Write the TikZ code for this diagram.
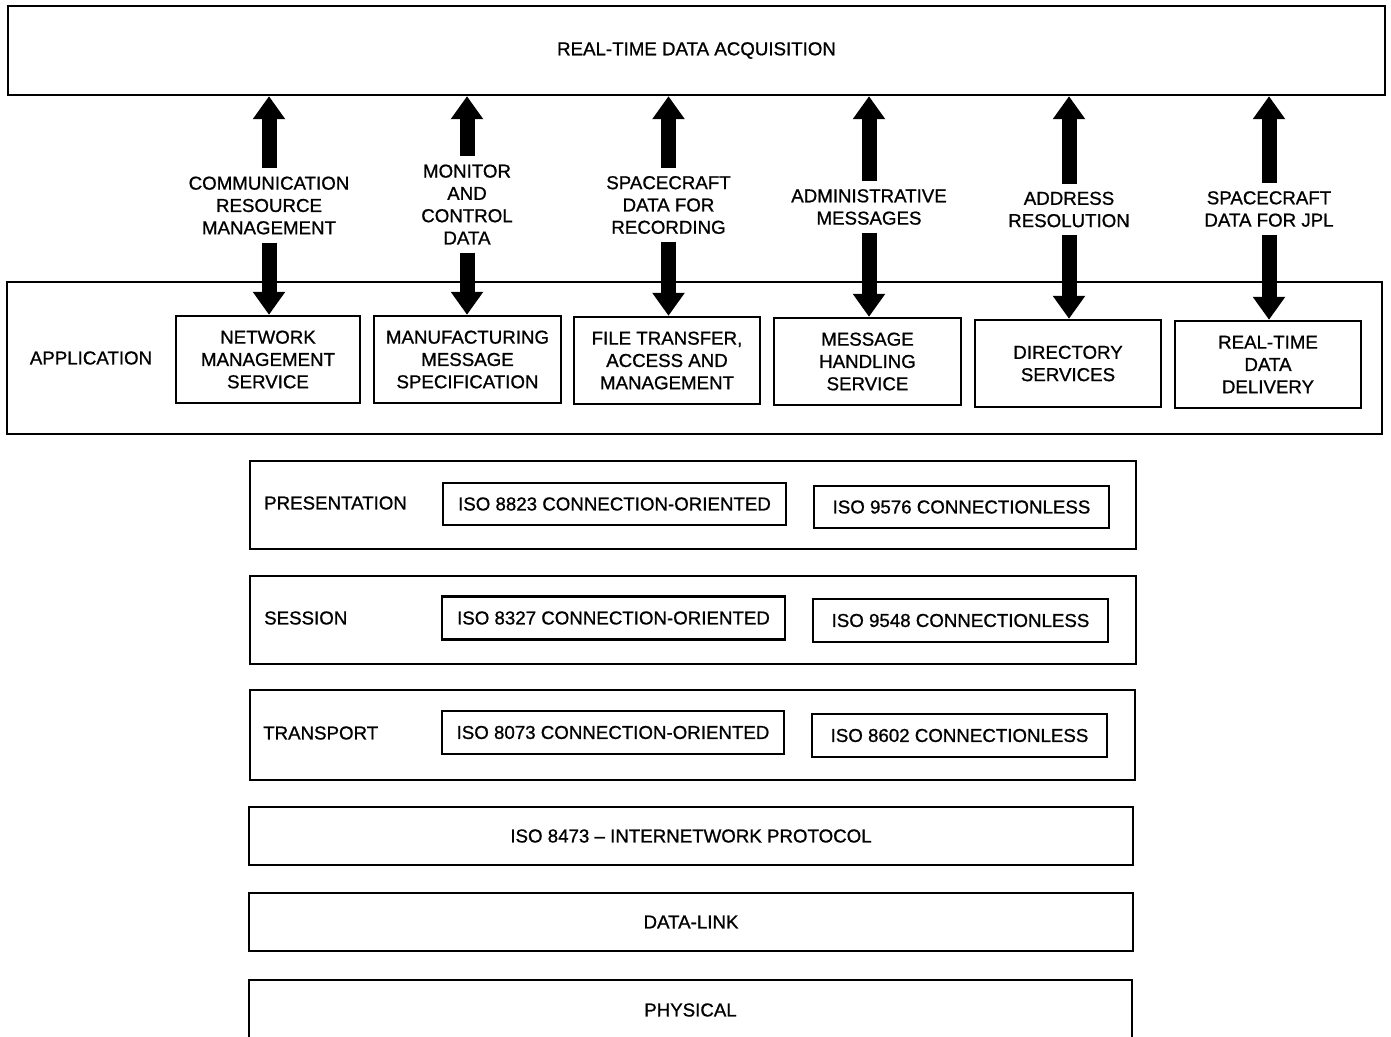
\documentclass[tikz,border=0pt]{standalone}
\usepackage{fontspec}
\setmainfont{Liberation Sans}[FakeBold=0.9]
\usetikzlibrary{arrows.meta}
\begin{document}
\begin{tikzpicture}[x=1pt,y=-1pt,
  every node/.style={font=\fontsize{18.7}{22.3}\selectfont},
  box/.style={draw, line width=2.4pt, inner sep=0pt, align=center},
  lab/.style={align=center, inner xsep=0pt, inner ysep=8pt},
  dbl/.style={line width=15pt, -{Triangle[width=31pt,length=23pt]}},
  layerlab/.style={anchor=west, inner sep=0pt}
]
\useasboundingbox (0,0) rectangle (1391,1036);

% top box
\node[box, minimum width=1377pt, minimum height=89pt] (rtda) at (696.5,50.5) {REAL-TIME DATA ACQUISITION};

% application layer
\node[box, minimum width=1375pt, minimum height=152pt] (app) at (694.5,358) {};
\node[inner sep=0pt] (applab) at (91,358) {APPLICATION};

\node[box, minimum width=184pt, minimum height=87pt] (b1) at (268,359.5) {NETWORK\\MANAGEMENT\\SERVICE};
\node[box, minimum width=187pt, minimum height=87pt] (b2) at (467.5,359.5) {MANUFACTURING\\MESSAGE\\SPECIFICATION};
\node[box, minimum width=186pt, minimum height=87pt] (b3) at (667,360.5) {FILE TRANSFER,\\ACCESS AND\\MANAGEMENT};
\node[box, minimum width=187pt, minimum height=87pt] (b4) at (867.5,361.5) {MESSAGE\\HANDLING\\SERVICE};
\node[box, minimum width=186pt, minimum height=87pt] (b5) at (1068,363.5) {DIRECTORY\\SERVICES};
\node[box, minimum width=186pt, minimum height=87pt] (b6) at (1268,364.5) {REAL-TIME\\DATA\\DELIVERY};

% arrow labels
\node[lab] (l1) at (269,205.5) {COMMUNICATION\\RESOURCE\\MANAGEMENT};
\node[lab] (l2) at (467,204.5) {MONITOR\\AND\\CONTROL\\DATA};
\node[lab] (l3) at (668.5,205) {SPACECRAFT\\DATA FOR\\RECORDING};
\node[lab] (l4) at (869,207) {ADMINISTRATIVE\\MESSAGES};
\node[lab] (l5) at (1069,209.5) {ADDRESS\\RESOLUTION};
\node[lab] (l6) at (1269,209) {SPACECRAFT\\DATA FOR JPL};

\foreach \l/\b in {l1/b1,l2/b2,l3/b3,l4/b4,l5/b5,l6/b6}{
  \draw[dbl] (\l.north) -- (\l.north |- rtda.south);
  \draw[dbl] (\l.south) -- (\l.south |- \b.north);
}

% presentation
\node[box, minimum width=886pt, minimum height=88pt] (pres) at (693,505) {};
\node[layerlab] (preslab) at (264,503) {PRESENTATION};
\node[box, minimum width=343pt, minimum height=42pt] (p1) at (614.5,504) {ISO 8823 CONNECTION-ORIENTED};
\node[box, minimum width=295pt, minimum height=42pt] (p2) at (961.5,507) {ISO 9576 CONNECTIONLESS};

% session
\node[box, minimum width=886pt, minimum height=88pt] (sess) at (693,620) {};
\node[layerlab] (sesslab) at (264,618) {SESSION};
\node[box, minimum width=343pt, minimum height=43pt] (s1) at (613.5,618) {ISO 8327 CONNECTION-ORIENTED};
\node[box, minimum width=295pt, minimum height=43pt] (s2) at (960.5,620.5) {ISO 9548 CONNECTIONLESS};

% transport
\node[box, minimum width=885pt, minimum height=90pt] (trans) at (692.5,735) {};
\node[layerlab] (translab) at (263,733) {TRANSPORT};
\node[box, minimum width=342pt, minimum height=43pt] (t1) at (613,732.5) {ISO 8073 CONNECTION-ORIENTED};
\node[box, minimum width=295pt, minimum height=43pt] (t2) at (959.5,735.5) {ISO 8602 CONNECTIONLESS};

% lower layers
\node[box, minimum width=884pt, minimum height=58pt] (net) at (691,836) {ISO 8473 -- INTERNETWORK PROTOCOL};
\node[box, minimum width=884pt, minimum height=58pt] (dl) at (691,922) {DATA-LINK};
\node[box, minimum width=883pt, minimum height=60pt] (phy) at (690.5,1010) {PHYSICAL};
\end{tikzpicture}
\end{document}
